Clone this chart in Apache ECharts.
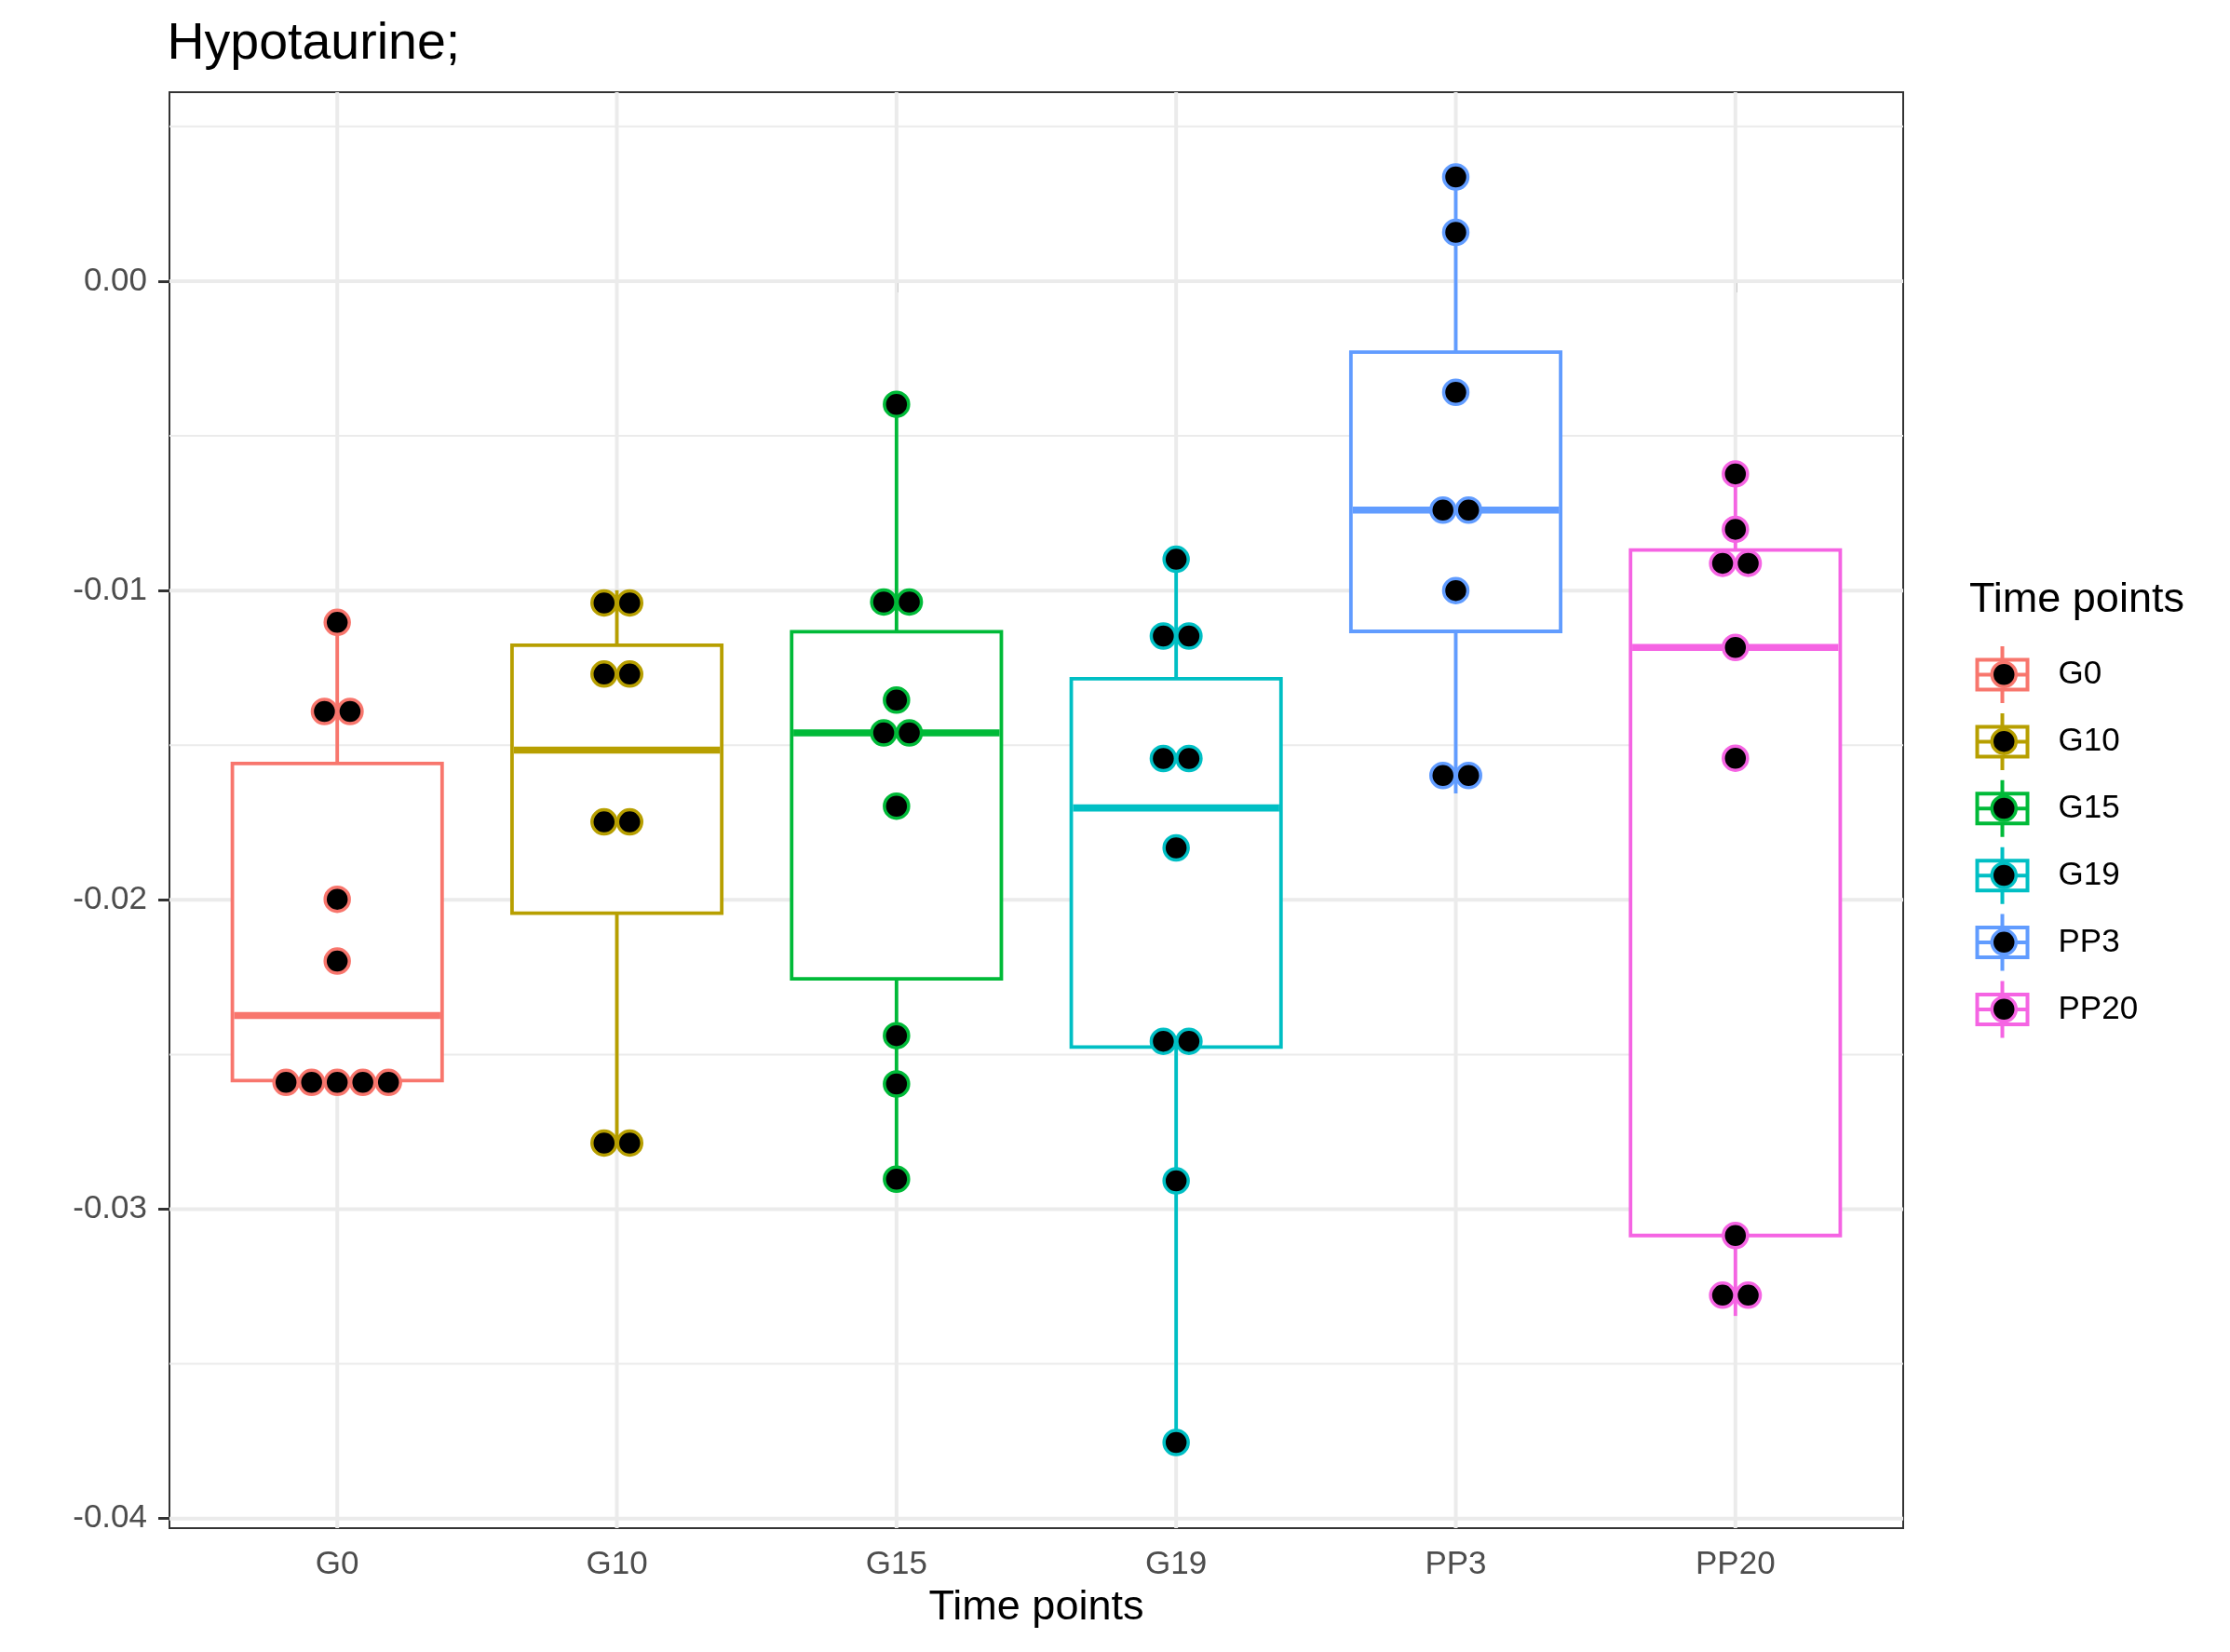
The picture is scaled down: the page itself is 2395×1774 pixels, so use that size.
<!DOCTYPE html>
<html><head><meta charset="utf-8">
<script src="https://cdn.jsdelivr.net/npm/echarts@6/dist/echarts.min.js"></script>
<style>html,body{margin:0;padding:0;background:#fff}#c{width:2395px;height:1774px}</style>
</head><body><div id="c"></div>
<script>
// ---- data ----
const categories = ['G0', 'G10', 'G15', 'G19', 'PP3', 'PP20'];
const colors = ['#F8766D', '#B79F00', '#00BA38', '#00BFC4', '#619CFF', '#F564E3'];

const pointsG0 = [-0.01103, -0.01391, -0.01391, -0.01998, -0.02198, -0.0259, -0.0259, -0.0259, -0.0259, -0.0259];
const pointsG10 = [-0.0104, -0.0104, -0.0127, -0.0127, -0.01748, -0.01748, -0.02786, -0.02786];
const pointsG15 = [-0.00398, -0.01037, -0.01037, -0.01354, -0.0146, -0.0146, -0.01697, -0.02439, -0.02595, -0.02903];
const pointsG19 = [-0.00899, -0.01147, -0.01147, -0.01543, -0.01543, -0.01832, -0.02457, -0.02457, -0.02908, -0.03754];
const pointsPP3 = [0.00337, 0.00158, -0.00359, -0.0074, -0.0074, -0.01, -0.01598, -0.01598];
const pointsPP20 = [-0.00623, -0.00802, -0.00912, -0.00912, -0.01184, -0.01542, -0.03085, -0.03278, -0.03278];

const boxLowWhisker = [-0.02584, -0.02786, -0.02903, -0.03754, -0.01656, -0.03345];
const boxQ1 = [-0.02584, -0.02043, -0.02255, -0.02476, -0.01132, -0.03085];
const boxMedian = [-0.02374, -0.01516, -0.0146, -0.01703, -0.0074, -0.01184];
const boxQ3 = [-0.01559, -0.01177, -0.01133, -0.01285, -0.00229, -0.00869];
const boxHighWhisker = [-0.01103, -0.00999, -0.00398, -0.00899, 0.00337, -0.00623];

const yTickValues = [-0.04, -0.03, -0.02, -0.01, 0];
const yMinorValues = [-0.035, -0.025, -0.015, -0.005, 0.005];
const xTickValues = [1, 2, 3, 4, 5, 6];

const title = 'Hypotaurine;';
const axisTitle = 'Time points';
const legendTitle = 'Time points';

// ---- chart ----
const FONT = '"Liberation Sans", Arial, Helvetica, sans-serif';
const allPoints = [pointsG0, pointsG10, pointsG15, pointsG19, pointsPP3, pointsPP20];
const DOT_SPACING = 27.5;

const chart = echarts.init(document.getElementById('c'), null, {renderer: 'canvas'});

function hLineRenderer(width) {
  return function (params, api) {
    const cs = params.coordSys;
    const y = api.coord([1, api.value(1)])[1];
    return {type: 'line', shape: {x1: cs.x, y1: y, x2: cs.x + cs.width, y2: y},
      style: {stroke: '#EBEBEB', lineWidth: width}};
  };
}
function vLineRenderer(width) {
  return function (params, api) {
    const cs = params.coordSys;
    const x = api.coord([api.value(0), 0])[0];
    return {type: 'line', shape: {x1: x, y1: cs.y, x2: x, y2: cs.y + cs.height},
      style: {stroke: '#EBEBEB', lineWidth: width}};
  };
}

const series = [
  {type: 'custom', name: 'gridMinor', silent: true, z: 1, renderItem: hLineRenderer(2),
    data: yMinorValues.map(v => [1, v])},
  {type: 'custom', name: 'gridMajorH', silent: true, z: 1, renderItem: hLineRenderer(4),
    data: yTickValues.map(v => [1, v])},
  {type: 'custom', name: 'gridMajorV', silent: true, z: 1, renderItem: vLineRenderer(4),
    data: xTickValues.map(v => [v, 0])}
];

categories.forEach((cat, i) => {
  const col = colors[i];
  series.push({
    type: 'custom', name: cat, z: 2, silent: true,
    renderItem: function (params, api) {
      const x = api.value(0);
      const cx = api.coord([x, 0])[0];
      const hw = api.size([0.75, 0])[0] / 2;
      const yLow = api.coord([x, api.value(1)])[1];
      const yQ1 = api.coord([x, api.value(2)])[1];
      const yMed = api.coord([x, api.value(3)])[1];
      const yQ3 = api.coord([x, api.value(4)])[1];
      const yHigh = api.coord([x, api.value(5)])[1];
      const lw = 3.8;
      return {type: 'group', children: [
        {type: 'line', shape: {x1: cx, y1: yQ3, x2: cx, y2: yHigh}, style: {stroke: col, lineWidth: lw}},
        {type: 'line', shape: {x1: cx, y1: yQ1, x2: cx, y2: yLow}, style: {stroke: col, lineWidth: lw}},
        {type: 'rect', shape: {x: cx - hw, y: yQ3, width: 2 * hw, height: yQ1 - yQ3},
          style: {fill: '#fff', stroke: col, lineWidth: lw, lineJoin: 'miter'}},
        {type: 'line', shape: {x1: cx - hw + lw / 2, y1: yMed, x2: cx + hw - lw / 2, y2: yMed},
          style: {stroke: col, lineWidth: 7.6, lineCap: 'butt'}}
      ]};
    },
    data: [[i + 1, boxLowWhisker[i], boxQ1[i], boxMedian[i], boxQ3[i], boxHighWhisker[i]]]
  });
  // dotplot-like stacking: equal values stacked side by side, centred
  const pts = allPoints[i];
  const counts = {};
  pts.forEach(v => { counts[v] = (counts[v] || 0) + 1; });
  const seen = {};
  const data = pts.map(v => {
    const k = seen[v] || 0; seen[v] = k + 1;
    const m = counts[v];
    const dx = (k - (m - 1) / 2) * DOT_SPACING;
    return {value: [i + 1, v], symbolOffset: [dx, 0]};
  });
  series.push({
    type: 'scatter', name: cat, z: 3, silent: true,
    symbol: 'circle', symbolSize: 26,
    itemStyle: {color: '#000', borderColor: col, borderWidth: 3.5, opacity: 1},
    emphasis: {disabled: true},
    data: data
  });
});

const boxIcon = 'path://M0,12.5L58,12.5L58,48.5L0,48.5Z M4,16.5L4,44.5L54,44.5L54,16.5Z M4,28.5L54,28.5L54,32.5L4,32.5Z M27,0L31,0L31,12.5L27,12.5Z M27,48.5L31,48.5L31,61L27,61Z';

const option = {
  animation: false,
  backgroundColor: '#fff',
  textStyle: {fontFamily: FONT},
  title: [
    {text: title, left: 179.5, top: 19.5, padding: 0,
      textStyle: {fontSize: 55.5, fontWeight: 'normal', color: '#000', fontFamily: FONT}},
    {text: legendTitle, left: 2115, top: 622, padding: 0,
      textStyle: {fontSize: 45, fontWeight: 'normal', color: '#000', fontFamily: FONT}}
  ],
  legend: [
    {orient: 'vertical', left: 2121.5, top: 694, padding: 0,
      itemWidth: 58, itemHeight: 61, itemGap: 10.9, icon: boxIcon, selectedMode: false,
      data: categories.map((c, i) => ({name: c, itemStyle: {color: colors[i], borderWidth: 0, opacity: 1}})),
      textStyle: {fontSize: 35, color: '#000', fontFamily: FONT, padding: [0, 0, 0, 26]}},
    {orient: 'vertical', left: 2137.5, top: 709.5, padding: 0,
      itemWidth: 26, itemHeight: 26, itemGap: 42.4, icon: 'circle', selectedMode: false,
      data: categories.map((c, i) => ({name: c, itemStyle: {color: '#000', borderColor: colors[i], borderWidth: 3.5, opacity: 1}})),
      formatter: function () { return ''; },
      textStyle: {fontSize: 1, color: 'rgba(0,0,0,0)'}}
  ],
  grid: {left: 182, right: 351, top: 99, bottom: 133, show: true,
    borderColor: '#333333', borderWidth: 2, backgroundColor: '#fff', containLabel: false},
  xAxis: {
    type: 'value', min: 0.4, max: 6.6,
    name: axisTitle, nameLocation: 'middle', nameGap: 63,
    nameTextStyle: {fontSize: 45, color: '#000', fontFamily: FONT},
    axisLine: {show: true, lineStyle: {color: '#333333', width: 2}},
    axisTick: {show: true, length: 12, lineStyle: {color: '#333333', width: 3}, customValues: xTickValues},
    axisLabel: {show: true, margin: 22, fontSize: 35, color: '#4D4D4D', fontFamily: FONT,
      customValues: xTickValues, formatter: v => categories[Math.round(v) - 1]},
    splitLine: {show: false}
  },
  yAxis: {
    type: 'value', min: -0.04031, max: 0.00611,
    axisLine: {show: true, lineStyle: {color: '#333333', width: 2}},
    axisTick: {show: true, length: 12, lineStyle: {color: '#333333', width: 3}, customValues: yTickValues},
    axisLabel: {show: true, margin: 24, fontSize: 35, color: '#4D4D4D', fontFamily: FONT,
      customValues: yTickValues, formatter: v => v.toFixed(2)},
    splitLine: {show: false}
  },
  series: series
};
chart.setOption(option);
</script></body></html>
